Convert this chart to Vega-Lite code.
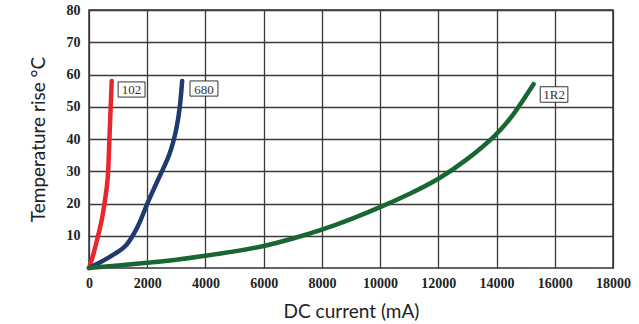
{
  "$schema": "https://vega.github.io/schema/vega-lite/v6.json",
  "width": 524,
  "height": 258,
  "autosize": {"type": "none"},
  "padding": {"left": 89, "top": 10, "right": 26, "bottom": 56},
  "background": "white",
  "config": {
    "view": {"stroke": "#333333", "strokeWidth": 1.5},
    "axis": {
      "grid": true,
      "gridColor": "#3a3a3a",
      "gridWidth": 1.3,
      "gridOpacity": 1,
      "domain": false,
      "ticks": false,
      "labelFont": "Liberation Serif",
      "labelFontWeight": "bold",
      "labelFontSize": 14,
      "labelColor": "#222222",
      "titleFont": "Lato",
      "titleFontWeight": "normal",
      "titleFontSize": 19,
      "titleColor": "#222222"
    }
  },
  "datasets": {
    "curves": [
      {"series": "102", "current": 0, "rise": 0},
      {"series": "102", "current": 150, "rise": 4},
      {"series": "102", "current": 310, "rise": 10},
      {"series": "102", "current": 450, "rise": 15},
      {"series": "102", "current": 550, "rise": 21},
      {"series": "102", "current": 620, "rise": 25.5},
      {"series": "102", "current": 665, "rise": 30},
      {"series": "102", "current": 700, "rise": 40},
      {"series": "102", "current": 745, "rise": 50},
      {"series": "102", "current": 780, "rise": 58},
      {"series": "680", "current": 0, "rise": 0},
      {"series": "680", "current": 400, "rise": 1.8},
      {"series": "680", "current": 720, "rise": 3.5},
      {"series": "680", "current": 1000, "rise": 5},
      {"series": "680", "current": 1300, "rise": 7},
      {"series": "680", "current": 1500, "rise": 10},
      {"series": "680", "current": 1700, "rise": 13},
      {"series": "680", "current": 2000, "rise": 20},
      {"series": "680", "current": 2200, "rise": 24},
      {"series": "680", "current": 2450, "rise": 29},
      {"series": "680", "current": 2780, "rise": 35},
      {"series": "680", "current": 3010, "rise": 43},
      {"series": "680", "current": 3130, "rise": 50},
      {"series": "680", "current": 3200, "rise": 58},
      {"series": "1R2", "current": 0, "rise": 0},
      {"series": "1R2", "current": 1000, "rise": 0.8},
      {"series": "1R2", "current": 2000, "rise": 1.6},
      {"series": "1R2", "current": 3000, "rise": 2.5},
      {"series": "1R2", "current": 4000, "rise": 3.8},
      {"series": "1R2", "current": 5000, "rise": 5.1},
      {"series": "1R2", "current": 6000, "rise": 6.7},
      {"series": "1R2", "current": 7000, "rise": 9.1},
      {"series": "1R2", "current": 8000, "rise": 11.8},
      {"series": "1R2", "current": 9000, "rise": 15.1},
      {"series": "1R2", "current": 10000, "rise": 18.8},
      {"series": "1R2", "current": 11000, "rise": 22.9},
      {"series": "1R2", "current": 12000, "rise": 27.4},
      {"series": "1R2", "current": 13000, "rise": 33.6},
      {"series": "1R2", "current": 14000, "rise": 41.2},
      {"series": "1R2", "current": 14600, "rise": 47.6},
      {"series": "1R2", "current": 15270, "rise": 57}
    ],
    "labels": [
      {"label": "102", "x1": 1000, "x2": 1925, "y1": 57.7, "y2": 53, "tx": 1460, "ty": 55.35},
      {"label": "680", "x1": 3470, "x2": 4430, "y1": 58, "y2": 53.3, "tx": 3950, "ty": 55.65},
      {"label": "1R2", "x1": 15500, "x2": 16450, "y1": 56.2, "y2": 51.4, "tx": 15975, "ty": 53.8}
    ]
  },
  "layer": [
    {
      "data": {"name": "curves"},
      "mark": {"type": "line", "interpolate": "basis", "strokeWidth": 4.5, "strokeCap": "round"},
      "encoding": {
        "x": {
          "field": "current", "type": "quantitative",
          "scale": {"domain": [0, 18000], "nice": false},
          "axis": {"values": [0, 2000, 4000, 6000, 8000, 10000, 12000, 14000, 16000, 18000], "tickCount": 20, "format": "d", "labelPadding": 8, "labelOverlap": false, "labelFlush": false, "labelBound": false, "title": "DC current (mA)", "titlePadding": 12}
        },
        "y": {
          "field": "rise", "type": "quantitative",
          "scale": {"domain": [0, 80], "nice": false},
          "axis": {"values": [10, 20, 30, 40, 50, 60, 70, 80], "tickCount": 20, "format": "d", "labelPadding": 9, "labelOverlap": false, "labelFlush": false, "labelBound": false, "title": "Temperature rise °C", "titlePadding": 18}
        },
        "color": {
          "field": "series", "type": "nominal",
          "scale": {"domain": ["102", "680", "1R2"], "range": ["#e8262d", "#1e3a6e", "#1a6632"]},
          "legend": null
        },
        "order": {"field": "current", "type": "quantitative"}
      }
    },
    {
      "data": {"name": "labels"},
      "mark": {"type": "rect", "fill": "white", "stroke": "#333333", "strokeWidth": 1},
      "encoding": {
        "x": {"field": "x1", "type": "quantitative"},
        "x2": {"field": "x2"},
        "y": {"field": "y1", "type": "quantitative"},
        "y2": {"field": "y2"}
      }
    },
    {
      "data": {"name": "labels"},
      "mark": {"type": "text", "font": "Liberation Serif", "fontSize": 13, "color": "#333333", "align": "center", "baseline": "middle", "dy": 1},
      "encoding": {
        "x": {"field": "tx", "type": "quantitative"},
        "y": {"field": "ty", "type": "quantitative"},
        "text": {"field": "label"}
      }
    }
  ]
}
